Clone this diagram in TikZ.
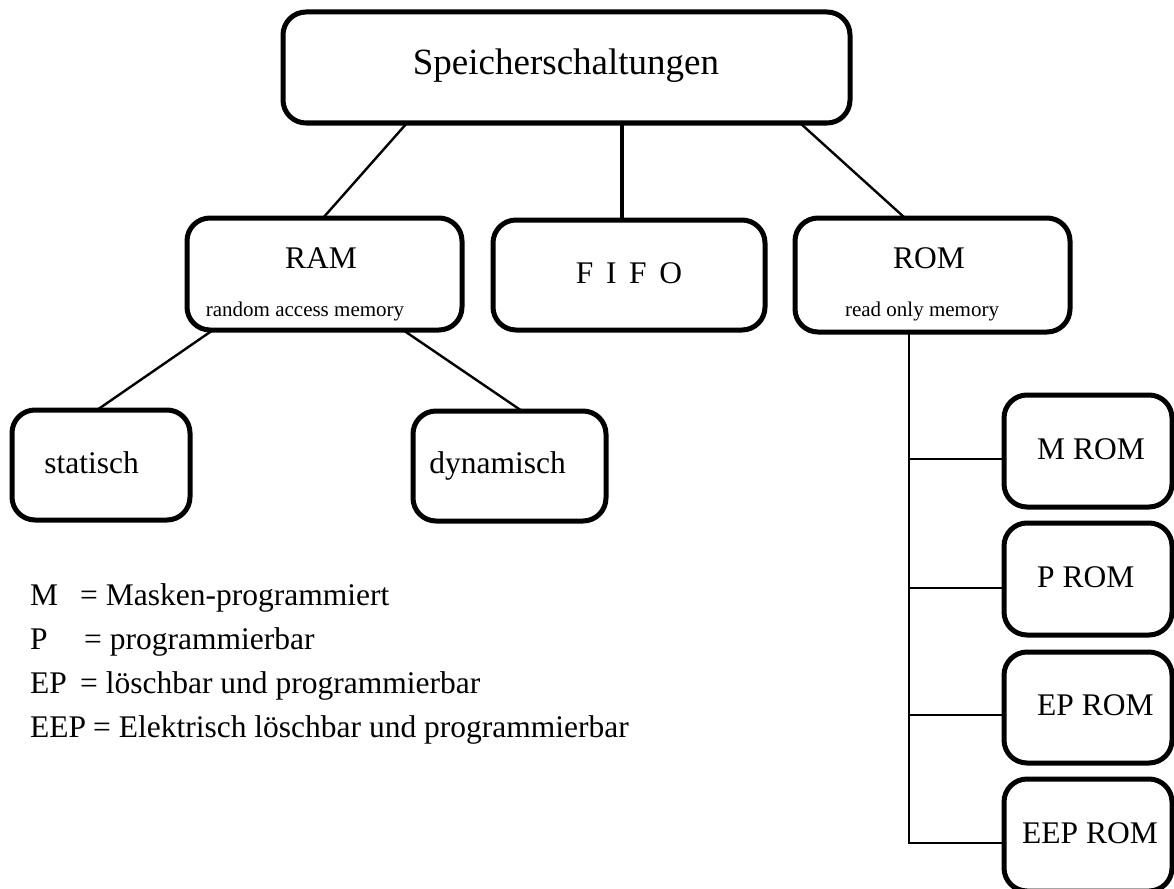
\documentclass[tikz,border=0pt]{standalone}
\usepackage{fontspec}
\setmainfont{Liberation Serif}
\begin{document}
\begin{tikzpicture}[x=1pt,y=-1pt,
  box/.style={draw, line width=5pt, rounded corners=23pt, outer sep=0pt, inner sep=0pt},
  link/.style={line width=2.4pt},
  stem/.style={line width=4pt},
  big/.style={font=\fontsize{37}{44}\selectfont, inner sep=0pt, anchor=base},
  mid/.style={font=\fontsize{31.5}{38}\selectfont, inner sep=0pt, anchor=base},
  small/.style={font=\fontsize{21}{25}\selectfont, inner sep=0pt, anchor=base},
  legend/.style={font=\fontsize{31.5}{37}\selectfont, inner sep=0pt, anchor=base west},
]
\useasboundingbox (0,0) rectangle (1174,888);

% boxes
\node[box, minimum width=567pt, minimum height=111pt] (top) at (566.5,67.5) {};
\node[box, minimum width=275pt, minimum height=112pt] (ram) at (324.5,274) {};
\node[box, minimum width=272pt, minimum height=110pt] (fifo) at (629,275) {};
\node[box, minimum width=275pt, minimum height=114pt] (rom) at (932.5,275) {};
\node[box, minimum width=178pt, minimum height=110pt] (stat) at (101,465) {};
\node[box, minimum width=193pt, minimum height=110pt] (dyn) at (509.5,466) {};
\node[box, minimum width=168pt, minimum height=112pt] (mrom) at (1088,451) {};
\node[box, minimum width=168pt, minimum height=112pt] (prom) at (1088,579) {};
\node[box, minimum width=168pt, minimum height=111pt] (eprom) at (1088,707.5) {};
\node[box, minimum width=168pt, minimum height=112pt] (eeprom) at (1088,835) {};

% box texts
\node[big] (ttop) at (566,75) {Speicherschaltungen};
\node[mid] (tram) at (321,268) {RAM};
\node[small] (sram) at (305,316) {random access memory};
\node[mid] (tfifo) at (629,283) {F\hspace{0.4em}I\hspace{0.4em}F\hspace{0.4em}O};
\node[mid] (trom) at (929,268) {ROM};
\node[small] (srom) at (922,316) {read only memory};
\node[mid] (tstat) at (91.5,473) {statisch};
\node[mid] (tdyn) at (497.5,473) {dynamisch};
\node[mid, anchor=base west] (tmrom) at (1037,459) {M ROM};
\node[mid, anchor=base west] (tprom) at (1037,587) {P ROM};
\node[mid, anchor=base west] (teprom) at (1037,715) {EP ROM};
\node[mid, anchor=base west] (teeprom) at (1022,843) {EEP ROM};

% tree connectors
\draw[link] ([xshift=-159.5pt]top.south) -- ([xshift=-1.5pt]ram.north);
\draw[stem] ([xshift=55.5pt]top.south) -- ([xshift=-7pt]fifo.north);
\draw[link] ([xshift=233.5pt]top.south) -- ([xshift=-27.5pt]rom.north);
\draw[link] ([xshift=-111.5pt]ram.south) -- ([xshift=-4pt]stat.north);
\draw[link] ([xshift=78.5pt]ram.south) -- ([xshift=12.5pt]dyn.north);

% ROM bus: trunk from ROM down, one branch to each ROM type
\coordinate (bus) at (909,843);
\draw[link] ([xshift=-23.5pt]rom.south) -- (bus) -- ([yshift=-8pt]eeprom.west);
\draw[link] (909,459) -- ([yshift=-8pt]mrom.west);
\draw[link] (909,588) -- ([yshift=-9pt]prom.west);
\draw[link] (909,715) -- ([yshift=-7.5pt]eprom.west);

% legend
\node[legend] (lm) at (30,605) {M};
\node[legend] (lmt) at (80,605) {= Masken-programmiert};
\node[legend] (lp) at (30,649) {P};
\node[legend] (lpt) at (84,649) {= programmierbar};
\node[legend] (lep) at (30,693) {EP};
\node[legend] (lept) at (80,693) {= löschbar und programmierbar};
\node[legend] (leep) at (30,737) {EEP};
\node[legend] (leept) at (93,737) {= Elektrisch löschbar und programmierbar};
\end{tikzpicture}
\end{document}
